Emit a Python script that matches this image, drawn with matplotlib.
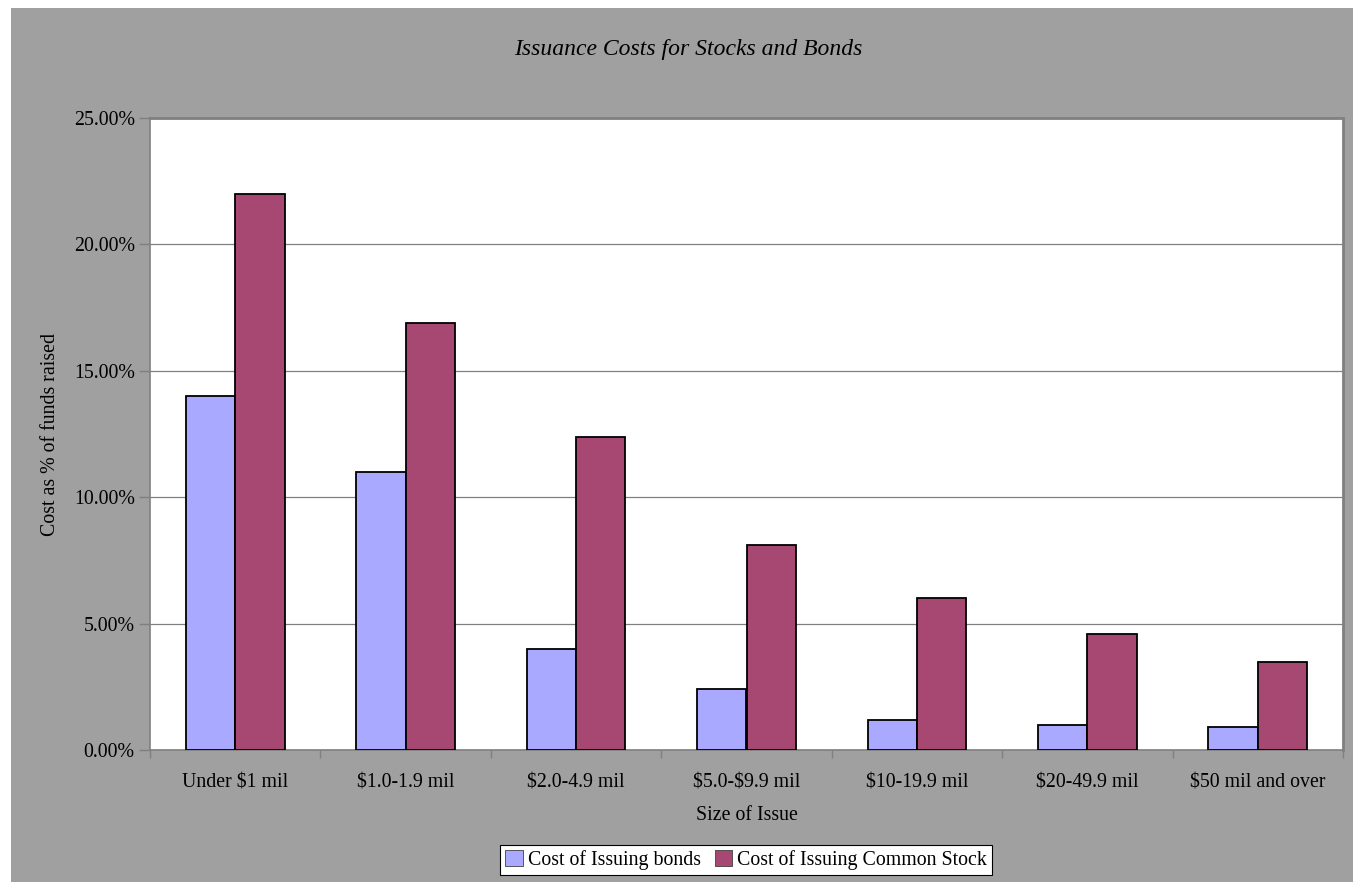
import numpy as np
import matplotlib.pyplot as plt
from matplotlib.patches import Rectangle, Patch
from matplotlib.ticker import FuncFormatter, FixedLocator

plt.rcParams['font.family'] = ['Liberation Serif', 'DejaVu Serif']
plt.rcParams['text.parse_math'] = False  # labels contain literal dollar signs

categories = ['Under $1 mil', '$1.0-1.9 mil', '$2.0-4.9 mil', '$5.0-$9.9 mil',
              '$10-19.9 mil', '$20-49.9 mil', '$50 mil and over']
bonds = [14.0, 11.0, 4.0, 2.4, 1.2, 1.0, 0.9]
stock = [22.0, 16.9, 12.4, 8.1, 6.0, 4.6, 3.5]

bond_color = '#a9a9ff'
stock_color = '#a64872'
bg = '#a0a0a0'
fs = 14.3

fig = plt.figure(figsize=(13.53, 8.82), dpi=100, facecolor='white')
# gray chart area, with a thin white margin on the top and left
fig.patches.append(Rectangle((11 / 1353, 0), 1 - 11 / 1353, 1 - 8 / 882,
                             transform=fig.transFigure, facecolor=bg,
                             edgecolor='none', zorder=-5))

ax = fig.add_axes([150 / 1353, 132 / 882, 1193 / 1353, 632 / 882])
ax.set_facecolor('white')

x = np.arange(len(categories))
w = 0.29
ax.bar(x - w / 2, bonds, w, color=bond_color, edgecolor='black', linewidth=1.3, zorder=3)
ax.bar(x + w / 2, stock, w, color=stock_color, edgecolor='black', linewidth=1.3, zorder=3)

ax.set_xlim(-0.5, len(categories) - 0.5)
ax.set_ylim(0, 25)
ax.set_yticks(np.arange(0, 26, 5))
ax.yaxis.set_major_formatter(FuncFormatter(lambda v, p: f'{v:.2f}%'))
ax.grid(axis='y', color='#808080', linewidth=0.9, zorder=0)

ax.set_xticks(x)
ax.set_xticklabels(categories)
ax.xaxis.set_minor_locator(FixedLocator(np.arange(-0.5, len(categories), 1)))
ax.tick_params(axis='x', which='major', length=0, pad=17, labelsize=fs)
ax.tick_params(axis='x', which='minor', length=6, color='#808080', width=1)
ax.tick_params(axis='y', length=8, color='#808080', width=1, labelsize=fs, pad=3)

for s in ax.spines.values():
    s.set_color('#808080')
    s.set_linewidth(1.2)
ax.spines['top'].set_linewidth(2)
ax.spines['right'].set_linewidth(2)

ax.set_xlabel('Size of Issue', fontsize=fs, labelpad=10)
ax.set_ylabel('Cost as % of funds raised', fontsize=fs, labelpad=10)

fig.text(688 / 1353, 1 - 49 / 882, 'Issuance Costs for Stocks and Bonds',
         ha='center', va='center', fontsize=17, style='italic')

handles = [Patch(facecolor=bond_color, edgecolor='#404040', linewidth=0.6),
           Patch(facecolor=stock_color, edgecolor='#404040', linewidth=0.6)]
leg = fig.legend(handles, ['Cost of Issuing bonds', 'Cost of Issuing Common Stock'],
                 loc='center', bbox_to_anchor=(746 / 1353, 1 - 860 / 882),
                 ncol=2, fontsize=fs, frameon=True, fancybox=False,
                 edgecolor='black', framealpha=1, handlelength=0.9,
                 handleheight=0.9, handletextpad=0.25, columnspacing=0.7,
                 borderpad=0.25, borderaxespad=0)
leg.get_frame().set_linewidth(0.8)

fig.savefig('out.png', dpi=100, facecolor=fig.get_facecolor())
